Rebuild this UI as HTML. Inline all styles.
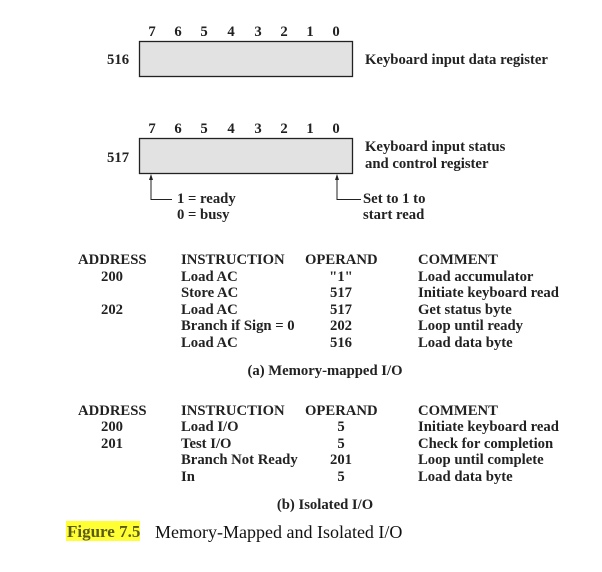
<!DOCTYPE html>
<html><head><style>
body{margin:0;background:#fff;}
#c{position:relative;width:602px;height:572px;overflow:hidden;font-family:"Liberation Serif",serif;font-weight:bold;font-size:14.7px;color:#222;}
.t{position:absolute;line-height:14px;white-space:nowrap;margin-top:1px;}
.c{transform:translateX(-50%);}
</style></head><body><div id="c">
<svg width="602" height="572" style="position:absolute;left:0;top:0">
<rect x="139.5" y="41.5" width="213" height="35" fill="#e2e2e2" stroke="#222" stroke-width="1.3"/>
<rect x="139.5" y="138.5" width="213" height="35" fill="#e2e2e2" stroke="#222" stroke-width="1.3"/>
<polyline points="151,178 151,199.5 172,199.5" fill="none" stroke="#222" stroke-width="1"/>
<polygon points="151,174 149,180 153,180" fill="#222"/>
<polyline points="337,178 337,199.5 361,199.5" fill="none" stroke="#222" stroke-width="1"/>
<polygon points="337,174 335,180 339,180" fill="#222"/>
<rect x="66" y="521" width="74" height="20" fill="#ffff33"/>
</svg>
<div class="t c" style="left:152px;top:24px">7</div><div class="t c" style="left:178px;top:24px">6</div><div class="t c" style="left:204px;top:24px">5</div><div class="t c" style="left:231px;top:24px">4</div><div class="t c" style="left:258px;top:24px">3</div><div class="t c" style="left:284px;top:24px">2</div><div class="t c" style="left:310px;top:24px">1</div><div class="t c" style="left:336px;top:24px">0</div>
<div class="t c" style="left:152px;top:121px">7</div><div class="t c" style="left:178px;top:121px">6</div><div class="t c" style="left:204px;top:121px">5</div><div class="t c" style="left:231px;top:121px">4</div><div class="t c" style="left:258px;top:121px">3</div><div class="t c" style="left:284px;top:121px">2</div><div class="t c" style="left:310px;top:121px">1</div><div class="t c" style="left:336px;top:121px">0</div>
<div class="t" style="left:107px;top:52px">516</div>
<div class="t" style="left:365px;top:52px">Keyboard input data register</div>
<div class="t" style="left:107px;top:150px">517</div>
<div class="t" style="left:365px;top:139px">Keyboard input status</div>
<div class="t" style="left:365px;top:156px">and control register</div>
<div class="t" style="left:177px;top:191px">1 = ready</div>
<div class="t" style="left:177px;top:207px">0 = busy</div>
<div class="t" style="left:363px;top:191px">Set to 1 to</div>
<div class="t" style="left:363px;top:207px">start read</div>

<div class="t" style="left:78px;top:252px">ADDRESS</div>
<div class="t" style="left:181px;top:252px">INSTRUCTION</div>
<div class="t" style="left:305px;top:252px">OPERAND</div>
<div class="t" style="left:418px;top:252px">COMMENT</div>
<div class="t c" style="left:112px;top:269px">200</div>
<div class="t c" style="left:112px;top:302px">202</div>
<div class="t" style="left:181px;top:269px">Load AC</div>
<div class="t" style="left:181px;top:285px">Store AC</div>
<div class="t" style="left:181px;top:302px">Load AC</div>
<div class="t" style="left:181px;top:318px">Branch if Sign = 0</div>
<div class="t" style="left:181px;top:335px">Load AC</div>
<div class="t c" style="left:341px;top:269px">"1"</div>
<div class="t c" style="left:341px;top:285px">517</div>
<div class="t c" style="left:341px;top:302px">517</div>
<div class="t c" style="left:341px;top:318px">202</div>
<div class="t c" style="left:341px;top:335px">516</div>
<div class="t" style="left:418px;top:269px">Load accumulator</div>
<div class="t" style="left:418px;top:285px">Initiate keyboard read</div>
<div class="t" style="left:418px;top:302px">Get status byte</div>
<div class="t" style="left:418px;top:318px">Loop until ready</div>
<div class="t" style="left:418px;top:335px">Load data byte</div>
<div class="t c" style="left:325px;top:363px">(a) Memory-mapped I/O</div>

<div class="t" style="left:78px;top:403px">ADDRESS</div>
<div class="t" style="left:181px;top:403px">INSTRUCTION</div>
<div class="t" style="left:305px;top:403px">OPERAND</div>
<div class="t" style="left:418px;top:403px">COMMENT</div>
<div class="t c" style="left:112px;top:419px">200</div>
<div class="t c" style="left:112px;top:436px">201</div>
<div class="t" style="left:181px;top:419px">Load I/O</div>
<div class="t" style="left:181px;top:436px">Test I/O</div>
<div class="t" style="left:181px;top:452px">Branch Not Ready</div>
<div class="t" style="left:181px;top:469px">In</div>
<div class="t c" style="left:341px;top:419px">5</div>
<div class="t c" style="left:341px;top:436px">5</div>
<div class="t c" style="left:341px;top:452px">201</div>
<div class="t c" style="left:341px;top:469px">5</div>
<div class="t" style="left:418px;top:419px">Initiate keyboard read</div>
<div class="t" style="left:418px;top:436px">Check for completion</div>
<div class="t" style="left:418px;top:452px">Loop until complete</div>
<div class="t" style="left:418px;top:469px">Load data byte</div>
<div class="t c" style="left:325px;top:497px">(b) Isolated I/O</div>

<div class="t" style="left:67px;top:522px;font-size:17px;line-height:18px;color:#5a5a1a">Figure 7.5</div>
<div class="t" style="left:155px;top:522px;font-size:18px;line-height:18px;font-weight:normal;color:#111">Memory-Mapped and Isolated I/O</div>
</div></body></html>
